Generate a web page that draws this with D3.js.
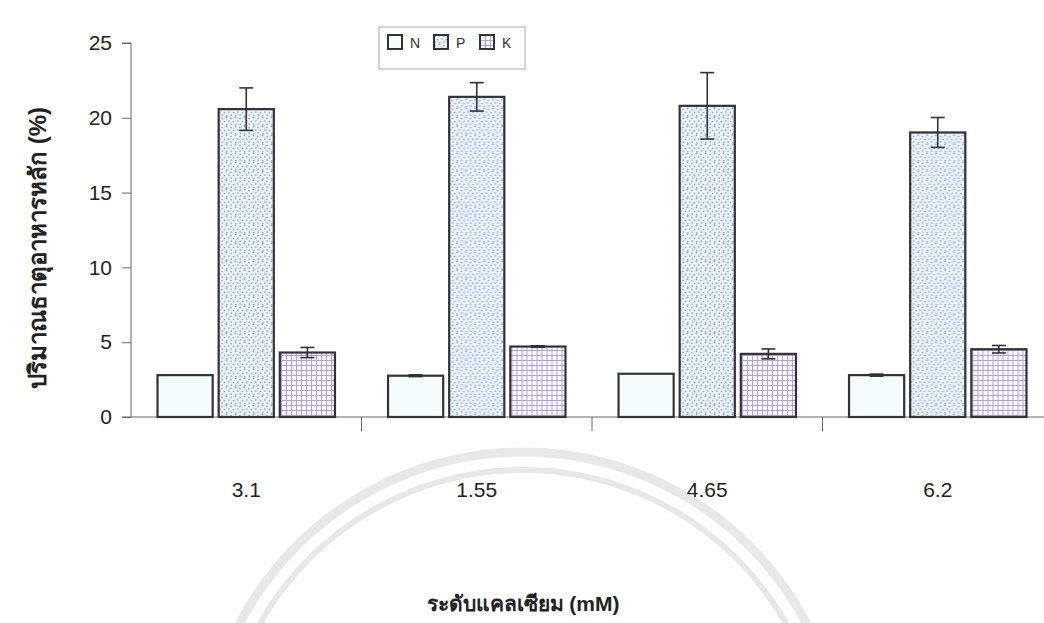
<!DOCTYPE html>
<html>
<head>
<meta charset="utf-8">
<script src="https://cdn.jsdelivr.net/npm/d3@7"></script>
<style>
  body { margin: 0; background: #fff; }
  svg { display: block; }
  .axis text { font-family: "Liberation Sans", Arial, sans-serif; font-size: 21px; fill: #222; }
  .axis path, .axis line { stroke: #666; stroke-width: 1; }
</style>
</head>
<body>
<script>
// data
var categories = ["3.1", "1.55", "4.65", "6.2"];
var series = ["N", "P", "K"];
var nValues = [2.8, 2.76, 2.89, 2.8];
var nErrors = [0, 0.06, 0, 0.07];
var pValues = [20.58, 21.4, 20.8, 19.02];
var pErrors = [1.42, 0.95, 2.22, 1.0];
var kValues = [4.31, 4.71, 4.22, 4.53];
var kErrors = [0.34, 0.05, 0.33, 0.25];
var yTicks = [0, 5, 10, 15, 20, 25];

var width = 1044, height = 623;
var margin = {top: 43, left: 131, bottom: 206};
var plotRight = 1053;   // the category axis runs past the right edge of the picture
var baseY = height - margin.bottom;

var svg = d3.select("body").append("svg")
    .attr("width", width)
    .attr("height", height);

var defs = svg.append("defs");

// dotted fill for P
var dots = defs.append("pattern")
    .attr("id", "dots")
    .attr("patternUnits", "userSpaceOnUse")
    .attr("width", 9).attr("height", 9);
dots.append("rect").attr("width", 9).attr("height", 9).attr("fill", "#eaf2fc");
[[1, 1.5], [5.5, 0.5], [3.5, 4.5], [7.8, 4], [1.2, 7], [5.8, 7.8]].forEach(function(p) {
    dots.append("circle").attr("cx", p[0]).attr("cy", p[1]).attr("r", 0.85).attr("fill", "#86a0dc");
});

// grid fill for K
var grid = defs.append("pattern")
    .attr("id", "grid")
    .attr("patternUnits", "userSpaceOnUse")
    .attr("width", 5).attr("height", 5);
grid.append("rect").attr("width", 5).attr("height", 5).attr("fill", "#fbfaff");
grid.append("path").attr("d", "M0,0.5H5M0.5,0V5")
    .attr("stroke", "#a898e2").attr("stroke-width", 0.9);

var fills = {N: "#f5fcfc", P: "url(#dots)", K: "url(#grid)"};

// faint watermark rings behind everything
var wm = svg.append("g").attr("transform", "translate(523,772)");
[320, 302].forEach(function(r, i) {
    wm.append("circle").attr("r", r).attr("fill", "none")
        .attr("stroke", "#e8e8e8").attr("stroke-width", i == 0 ? 9 : 6);
});

// scales
var x0 = d3.scaleBand().domain(categories).range([margin.left, plotRight]).padding(0);
var x1 = d3.scaleBand().domain(series).range([0, x0.bandwidth()])
    .paddingInner(0.098).paddingOuter(0.434);
var y = d3.scaleLinear().domain([0, 25]).range([baseY, margin.top]);

// y axis
var yAxis = d3.axisLeft(y).tickValues(yTicks).tickSize(9).tickPadding(10);
svg.append("g")
    .attr("class", "axis")
    .attr("transform", "translate(" + margin.left + ",0)")
    .call(yAxis)
    .call(function(g) { g.select(".domain").attr("d", "M-9," + margin.top + "H0V" + baseY + "H-9"); });

// x axis: ticks between categories
var xAxisG = svg.append("g").attr("class", "axis");
xAxisG.append("line")
    .attr("x1", margin.left).attr("x2", plotRight)
    .attr("y1", baseY).attr("y2", baseY);
xAxisG.selectAll(".sep")
    .data(categories.slice(1))
    .join("line")
    .attr("x1", function(d) { return x0(d); })
    .attr("x2", function(d) { return x0(d); })
    .attr("y1", baseY).attr("y2", baseY + 14);
xAxisG.selectAll(".lab")
    .data(categories)
    .join("text")
    .attr("x", function(d) { return x0(d) + x0.bandwidth() / 2; })
    .attr("y", baseY + 80)
    .attr("text-anchor", "middle")
    .text(function(d) { return d; });

// bars
var table = categories.map(function(c, i) {
    return {
        cat: c,
        items: [
            {s: "N", v: nValues[i], e: nErrors[i]},
            {s: "P", v: pValues[i], e: pErrors[i]},
            {s: "K", v: kValues[i], e: kErrors[i]}
        ]
    };
});

var groups = svg.selectAll(".grp")
    .data(table)
    .join("g")
    .attr("transform", function(d) { return "translate(" + x0(d.cat) + ",0)"; });

groups.selectAll("rect")
    .data(function(d) { return d.items; })
    .join("rect")
    .attr("x", function(d) { return x1(d.s); })
    .attr("y", function(d) { return y(d.v); })
    .attr("width", x1.bandwidth())
    .attr("height", function(d) { return baseY - y(d.v); })
    .attr("fill", function(d) { return fills[d.s]; })
    .attr("stroke", "#333")
    .attr("stroke-width", 2.2);

// error bars
var eb = groups.selectAll(".err")
    .data(function(d) { return d.items.filter(function(it) { return it.e > 0; }); })
    .join("g")
    .attr("stroke", "#333")
    .attr("stroke-width", 1.6);
eb.append("line")
    .attr("x1", function(d) { return x1(d.s) + x1.bandwidth() / 2; })
    .attr("x2", function(d) { return x1(d.s) + x1.bandwidth() / 2; })
    .attr("y1", function(d) { return y(d.v + d.e); })
    .attr("y2", function(d) { return y(d.v - d.e); });
[1, -1].forEach(function(sgn) {
    eb.append("line")
        .attr("x1", function(d) { return x1(d.s) + x1.bandwidth() / 2 - 7; })
        .attr("x2", function(d) { return x1(d.s) + x1.bandwidth() / 2 + 7; })
        .attr("y1", function(d) { return y(d.v + sgn * d.e); })
        .attr("y2", function(d) { return y(d.v + sgn * d.e); });
});

// legend
var leg = svg.append("g").attr("transform", "translate(379,27)");
leg.append("rect").attr("width", 146).attr("height", 42)
    .attr("fill", "#fff").attr("stroke", "#aaa").attr("stroke-width", 1);
var li = leg.selectAll(".li")
    .data(series)
    .join("g")
    .attr("transform", function(d, i) { return "translate(" + (9 + i * 46) + ",8)"; });
li.append("rect").attr("width", 14).attr("height", 14)
    .attr("fill", function(d) { return fills[d]; })
    .attr("stroke", "#333").attr("stroke-width", 2);
li.append("text")
    .attr("x", 22).attr("y", 13)
    .attr("font-family", "Liberation Sans, Arial, sans-serif")
    .attr("font-size", 14)
    .attr("fill", "#333")
    .text(function(d) { return d; });

// axis titles
svg.append("text")
    .attr("transform", "translate(46,248) rotate(-90)")
    .attr("text-anchor", "middle")
    .attr("font-family", "Liberation Sans, DejaVu Sans, sans-serif")
    .attr("font-weight", "bold")
    .attr("font-size", 24)
    .attr("fill", "#222")
    .text("ปริมาณธาตุอาหารหลัก (%)");

svg.append("text")
    .attr("x", 523).attr("y", 611)
    .attr("text-anchor", "middle")
    .attr("font-family", "Liberation Sans, DejaVu Sans, sans-serif")
    .attr("font-weight", "bold")
    .attr("font-size", 21)
    .attr("fill", "#222")
    .text("ระดับแคลเซียม (mM)");
</script>
</body>
</html>
